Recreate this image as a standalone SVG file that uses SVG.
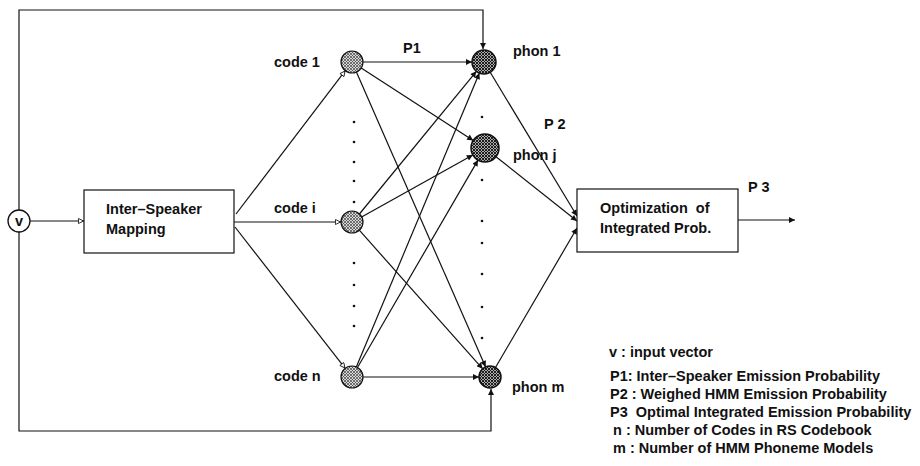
<svg xmlns="http://www.w3.org/2000/svg" width="920" height="466" viewBox="0 0 920 466">
<style>
text{font-family:"Liberation Sans",Arial,sans-serif;font-weight:bold;font-size:14.5px;fill:#111}
.lg{font-size:14.5px}
.ln{fill:none;stroke:#111;stroke-width:1.2}
.box{fill:#fff;stroke:#111;stroke-width:1.2}
.code{fill:url(#hatchL);stroke:#111;stroke-width:1.2}
.phon{fill:url(#hatchD);stroke:#111;stroke-width:1.5}
.dot{fill:#111}
.fa{marker-end:url(#fill)}
.oa{marker-end:url(#open)}
</style>
<defs>
<pattern id="hatchL" width="3" height="3" patternUnits="userSpaceOnUse">
<rect width="3" height="3" fill="#d8d8d8"/>
<path d="M0,0L3,3M3,0L0,3" stroke="#444" stroke-width="0.7"/>
</pattern>
<pattern id="hatchD" width="3" height="3" patternUnits="userSpaceOnUse">
<rect width="3" height="3" fill="#aaa"/>
<path d="M0,0L3,3M3,0L0,3" stroke="#111" stroke-width="0.9"/>
</pattern>
<marker id="fill" viewBox="0 0 10 10" refX="10" refY="5" markerWidth="9" markerHeight="6" markerUnits="userSpaceOnUse" orient="auto">
<path d="M0,0L10,5L0,10z" fill="#111"/>
</marker>
<marker id="open" viewBox="0 0 10 10" refX="10" refY="5" markerWidth="9" markerHeight="6" markerUnits="userSpaceOnUse" orient="auto">
<path d="M0.8,0.8L9.2,5L0.8,9.2z" fill="#fff" stroke="#111" stroke-width="1.4"/>
</marker>
</defs>

<g id="connectors">
<path class="ln fa" d="M19,210V10H483V49"/>
<path class="ln fa" d="M19,232V431H491V389"/>
<path class="ln oa" d="M30,221H84"/>
<path class="ln oa" d="M236,214L345.3,70.7"/>
<path class="ln oa" d="M234,222H341"/>
<path class="ln oa" d="M235,227L345.2,368.3"/>
<path class="ln fa" d="M363,62H472"/>
<path class="ln fa" d="M361.2,68L473.2,140.4"/>
<path class="ln fa" d="M356.4,72.1L485.6,366.9"/>
<path class="ln fa" d="M359,214.5L476.4,71.3"/>
<path class="ln fa" d="M361.6,217L472.8,154.9"/>
<path class="ln fa" d="M359.3,230.2L482.7,368.8"/>
<path class="ln fa" d="M356.3,366.9L479.4,73.1"/>
<path class="ln fa" d="M357.5,367.5L478,160.1"/>
<path class="ln fa" d="M363,377H479"/>
<path class="ln fa" d="M490.2,72.3L577,216"/>
<path class="ln fa" d="M496,156.7L577,221"/>
<path class="ln fa" d="M495.5,367.5L577,228"/>
<path class="ln fa" d="M738,220H795"/>
</g>

<g id="v">
<circle cx="19" cy="221" r="11" fill="#fff" stroke="#111" stroke-width="1.3"/>
<text x="19" y="226" text-anchor="middle">v</text>
</g>

<g id="mapping">
<rect class="box" x="84" y="190" width="150" height="63"/>
<text x="106" y="214">Inter–Speaker</text>
<text x="106" y="234">Mapping</text>
</g>

<g id="code1">
<circle class="code" cx="352" cy="62" r="11"/>
<text x="274" y="67">code 1</text>
</g>
<g id="codei">
<circle class="code" cx="352" cy="222" r="11"/>
<text x="274" y="213">code i</text>
</g>
<g id="coden">
<circle class="code" cx="352" cy="377" r="11"/>
<text x="274" y="381">code n</text>
</g>

<g id="phon1">
<circle class="phon" cx="484" cy="62" r="12"/>
<text x="513" y="56">phon 1</text>
</g>
<g id="phonj">
<circle class="phon" cx="485" cy="148" r="14"/>
<text x="513" y="160">phon j</text>
</g>
<g id="phonm">
<circle class="phon" cx="490" cy="377" r="11"/>
<text x="512" y="392">phon m</text>
</g>

<g id="optimization">
<rect class="box" x="577" y="189" width="161" height="63"/>
<text x="600" y="213" xml:space="preserve">Optimization  of</text>
<text x="600" y="233">Integrated Prob.</text>
</g>

<g id="labels">
<text x="403" y="53">P1</text>
<text x="544" y="129">P 2</text>
<text x="748" y="192">P 3</text>
</g>

<g id="dots">
<circle class="dot" cx="354" cy="122" r="1.3"/>
<circle class="dot" cx="354" cy="142" r="1.3"/>
<circle class="dot" cx="354" cy="162" r="1.3"/>
<circle class="dot" cx="354" cy="181" r="1.3"/>
<circle class="dot" cx="354" cy="202" r="1.3"/>
<circle class="dot" cx="354" cy="263" r="1.3"/>
<circle class="dot" cx="354" cy="285" r="1.3"/>
<circle class="dot" cx="354" cy="306" r="1.3"/>
<circle class="dot" cx="354" cy="326" r="1.3"/>
<circle class="dot" cx="482" cy="117" r="1.3"/>
<circle class="dot" cx="482" cy="180" r="1.3"/>
<circle class="dot" cx="482" cy="221" r="1.3"/>
<circle class="dot" cx="482" cy="243" r="1.3"/>
<circle class="dot" cx="482" cy="274" r="1.3"/>
<circle class="dot" cx="482" cy="307" r="1.3"/>
<circle class="dot" cx="482" cy="338" r="1.3"/>
</g>

<g id="legend" class="lg">
<text x="609" y="357">v : input vector</text>
<text x="610" y="381">P1: Inter–Speaker Emission Probability</text>
<text x="610" y="399">P2 : Weighed HMM Emission Probability</text>
<text x="610" y="417" xml:space="preserve">P3  Optimal Integrated Emission Probability</text>
<text x="613" y="435">n : Number of Codes in RS Codebook</text>
<text x="613" y="453">m : Number of HMM Phoneme Models</text>
</g>
</svg>
